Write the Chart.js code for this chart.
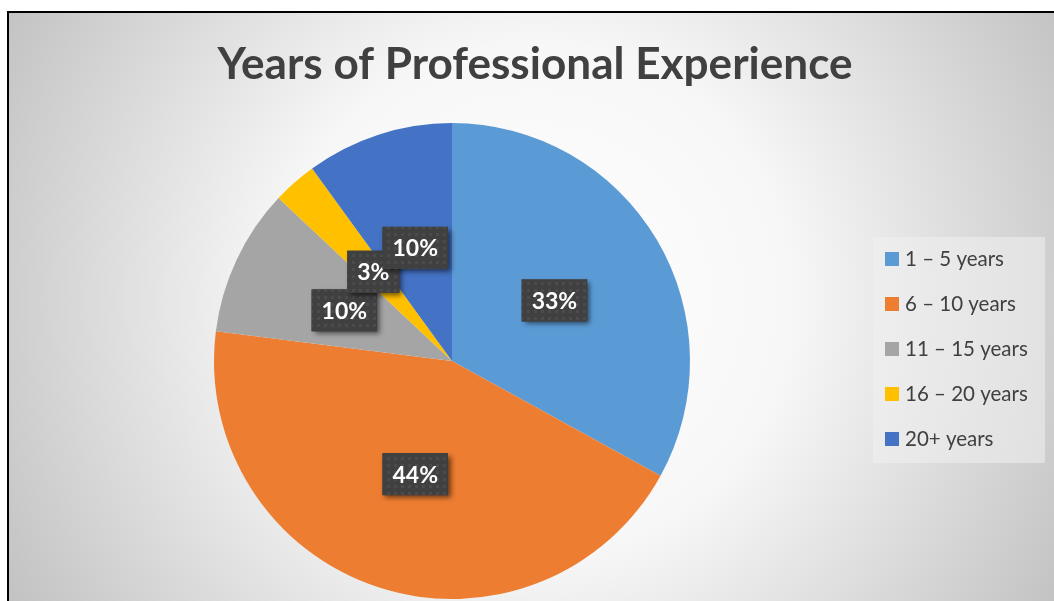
<!DOCTYPE html>
<html>
<head>
<meta charset="utf-8">
<script src="https://cdn.jsdelivr.net/npm/chart.js@4.4.0/dist/chart.umd.min.js"></script>
<style>
  html, body { margin: 0; padding: 0; background: #fff; }
  canvas { display: block; }
</style>
</head>
<body>
<canvas id="myChart" width="1054" height="601"></canvas>
<script>
const chartTitle = 'Years of Professional Experience';
const categories = ['1 – 5 years', '6 – 10 years', '11 – 15 years', '16 – 20 years', '20+ years'];
const shares = [33, 44, 10, 3, 10];
const sliceColors = ['#5B9BD5', '#ED7D31', '#A5A5A5', '#FFC000', '#4472C4'];

const FONT = 'Lato, "Open Sans", sans-serif';
const TEXT = '#404040';

// dotted pattern used on the data label boxes
function makePattern(ctx) {
    const c = document.createElement('canvas');
    c.width = 7; c.height = 7;
    const p = c.getContext('2d');
    p.fillStyle = '#404040';
    p.fillRect(0, 0, 7, 7);
    p.fillStyle = '#4b4b4b';
    p.fillRect(2, 2, 3, 3);
    return ctx.createPattern(c, 'repeat');
}

// background gradient + frame
const backgroundPlugin = {
    id: 'bg',
    beforeDraw(chart) {
        const ctx = chart.ctx;
        ctx.save();
        ctx.fillStyle = '#ffffff';
        ctx.fillRect(0, 0, chart.width, chart.height);
        const g = ctx.createRadialGradient(535, 300, 0, 535, 300, 640);
        g.addColorStop(0, '#ffffff');
        g.addColorStop(0.4, '#f7f7f7');
        g.addColorStop(1, '#bdbdbd');
        ctx.fillStyle = g;
        ctx.fillRect(9, 13, chart.width, chart.height);
        ctx.strokeStyle = '#000';
        ctx.lineWidth = 2;
        ctx.beginPath();
        ctx.moveTo(8, chart.height + 5);
        ctx.lineTo(8, 12);
        ctx.lineTo(chart.width + 5, 12);
        ctx.stroke();
        ctx.restore();
    }
};

// title, legend and data labels
const decorPlugin = {
    id: 'decor',
    afterDatasetsDraw(chart) {
        const ctx = chart.ctx;
        ctx.save();

        // title, fitted to the reference width
        let size = 40;
        ctx.font = 'bold ' + size + 'px ' + FONT;
        size = size * 636 / ctx.measureText(chartTitle).width;
        ctx.font = 'bold ' + size.toFixed(1) + 'px ' + FONT;
        ctx.fillStyle = TEXT;
        ctx.textAlign = 'center';
        ctx.textBaseline = 'alphabetic';
        ctx.fillText(chartTitle, 535, 79);

        // legend
        ctx.fillStyle = 'rgba(240,240,240,0.55)';
        ctx.fillRect(873, 237, 172, 226);
        ctx.font = '20.5px ' + FONT;
        ctx.textAlign = 'left';
        categories.forEach((name, i) => {
            const y = 252 + i * 45;
            ctx.fillStyle = sliceColors[i];
            ctx.fillRect(885, y, 14, 14);
            ctx.fillStyle = TEXT;
            ctx.fillText(name, 905, y + 14);
        });

        // data labels
        const pattern = makePattern(ctx);
        const meta = chart.getDatasetMeta(0);
        ctx.font = 'bold 23px ' + FONT;
        meta.data.forEach((arc, i) => {
            const p = arc.getCenterPoint();
            const label = shares[i] + '%';
            const w = ctx.measureText(label).width + 20;
            const h = 42;
            const x = p.x - w / 2, y = p.y - h / 2;
            ctx.save();
            ctx.shadowColor = 'rgba(0,0,0,0.55)';
            ctx.shadowBlur = 5;
            ctx.shadowOffsetX = 3;
            ctx.shadowOffsetY = 3;
            ctx.fillStyle = '#404040';
            ctx.fillRect(x, y, w, h);
            ctx.restore();
            ctx.fillStyle = pattern;
            ctx.fillRect(x, y, w, h);
            ctx.fillStyle = '#ffffff';
            ctx.textAlign = 'center';
            ctx.textBaseline = 'middle';
            ctx.fillText(label, p.x, p.y + 1);
        });
        ctx.restore();
    }
};

const ctx = document.querySelector('#myChart').getContext('2d');
const myChart = new Chart(ctx, {
    type: 'pie',
    data: {
        labels: categories,
        datasets: [{
            data: shares,
            backgroundColor: sliceColors,
            borderWidth: 0
        }]
    },
    options: {
        responsive: false,
        animation: false,
        layout: {
            padding: { left: 214, right: 364, top: 123, bottom: 2 }
        },
        plugins: {
            legend: { display: false },
            title: { display: false },
            tooltip: { enabled: false }
        }
    },
    plugins: [backgroundPlugin, decorPlugin]
});
</script>
</body>
</html>
